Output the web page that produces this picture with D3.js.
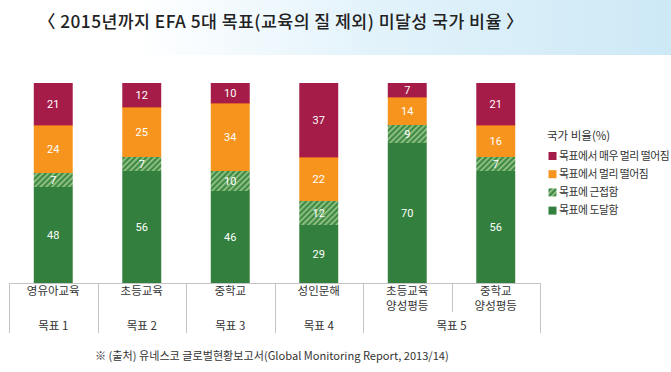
<!DOCTYPE html>
<html><head><meta charset="utf-8">
<script src="https://cdn.jsdelivr.net/npm/d3@7"></script>
<style>
html,body{margin:0;padding:0;background:#fff;}
svg{display:block;font-family:"Noto Sans CJK KR","Noto Sans",sans-serif;}
</style></head>
<body><svg id="c" width="671" height="372"></svg>
<script>
const categories = ["영유아교육", "초등교육", "중학교", "성인문해", "초등교육\n양성평등", "중학교\n양성평등"];
const goals = ["목표 1", "목표 2", "목표 3", "목표 4", "목표 5"];
const goalSpan = [[0,0],[1,1],[2,2],[3,3],[4,5]];
const seriesNames = ["목표에 도달함", "목표에 근접함", "목표에서 멀리 떨어짐", "목표에서 매우 멀리 떨어짐"];
const reached = [48, 56, 46, 29, 70, 56];
const close   = [7, 7, 10, 12, 9, 7];
const far     = [24, 25, 34, 22, 14, 16];
const veryFar = [21, 12, 10, 37, 7, 21];
const yDomain = [0, 100];
const title = "〈 2015년까지 EFA 5대 목표(교육의 질 제외) 미달성 국가 비율 〉";
const legendTitle = "국가 비율(%)";
const footnote = "※ (출처) 유네스코 글로벌현황보고서(Global Monitoring Report, 2013/14)";

const colors = ["#33803e", "hatch", "#f7941d", "#a51c48"];

const svg = d3.select("#c");
const defs = svg.append("defs");

// background wash
const lg = defs.append("linearGradient").attr("id","wash").attr("x1","0").attr("x2","1").attr("y1","0").attr("y2","0");
lg.append("stop").attr("offset","0.2").attr("stop-color","#ffffff");
lg.append("stop").attr("offset","0.55").attr("stop-color","#e3f3fb");
lg.append("stop").attr("offset","1").attr("stop-color","#cde9f6");
svg.append("rect").attr("x",0).attr("y",0).attr("width",671).attr("height",55).attr("fill","url(#wash)");

// hatch pattern
const pat = defs.append("pattern").attr("id","hatch").attr("patternUnits","userSpaceOnUse")
  .attr("width",4).attr("height",4).attr("patternTransform","rotate(45)");
pat.append("rect").attr("width",4).attr("height",4).attr("fill","#3f8a44");
pat.append("rect").attr("width",1.6).attr("height",4).attr("fill","#9cc88c");

const x = d3.scaleBand().domain(categories).range([9, 540]).paddingInner(0.56).paddingOuter(0.28);
const y = d3.scaleLinear().domain(yDomain).range([283, 83]);

const data = categories.map((c,i)=>({cat:c, v:[reached[i], close[i], far[i], veryFar[i]]}));
const stacked = d3.stack().keys([0,1,2,3]).value((d,k)=>d.v[k])(data);

const g = svg.append("g");
stacked.forEach((layer, k) => {
  layer.forEach((seg, i) => {
    const x0 = x(categories[i]), w = x.bandwidth();
    const y0 = y(seg[1]), h = y(seg[0]) - y(seg[1]);
    g.append("rect").attr("x", x0).attr("y", y0).attr("width", w).attr("height", h)
      .attr("fill", colors[k] === "hatch" ? "url(#hatch)" : colors[k]);
    if (k === 2) {
      g.append("line").attr("x1", x0).attr("x2", x0 + w).attr("y1", y0 + 0.5).attr("y2", y0 + 0.5)
        .attr("stroke", "#e0602a").attr("stroke-width", 1);
    }
    g.append("text").attr("x", x0 + w/2).attr("y", y0 + h/2).attr("dy","0.36em")
      .attr("text-anchor","middle").attr("fill","#fff").attr("font-size",11)
      .attr("font-family","'Roboto','Noto Sans',sans-serif")
      .text(data[i].v[k]);
  });
});

// axis
const axisG = svg.append("g").attr("stroke","#c4c4c4").attr("stroke-width",1);
axisG.append("line").attr("x1",9).attr("x2",540).attr("y1",283.5).attr("y2",283.5);
const step = x.step();
const bandStart = i => x(categories[i]) - x.paddingInner()*step/2;
const bounds = goalSpan.map(s => bandStart(s[0])).concat([bandStart(5) + step]);
bounds.forEach(b => axisG.append("line").attr("x1",Math.round(b)+0.5).attr("x2",Math.round(b)+0.5).attr("y1",283).attr("y2",333));
axisG.append("line").attr("x1",Math.round(bandStart(5))+0.5).attr("x2",Math.round(bandStart(5))+0.5).attr("y1",283).attr("y2",312);

// category labels
categories.forEach((c,i)=>{
  const lines = c.split("\n");
  const t = svg.append("text").attr("x", x(c)+x.bandwidth()/2).attr("text-anchor","middle")
    .attr("font-size",11.5).attr("fill","#333");
  lines.forEach((l,j)=> t.append("tspan").attr("x", x(c)+x.bandwidth()/2).attr("y", 295 + j*15).text(l));
});
// goal labels
goals.forEach((gname,i)=>{
  const s = goalSpan[i];
  const cx = (x(categories[s[0]]) + x(categories[s[1]]) + x.bandwidth())/2;
  svg.append("text").attr("x",cx).attr("y",330).attr("text-anchor","middle")
    .attr("font-size",11.5).attr("fill","#333").text(gname);
});

// title
svg.append("text").attr("x",281).attr("y",28).attr("text-anchor","middle")
  .attr("font-size",17.3).attr("font-weight",500).attr("fill","#222").attr("letter-spacing",0.45).text(title);

// legend
svg.append("text").attr("x",547).attr("y",140).attr("font-size",11.5).attr("fill","#333").text(legendTitle);
const order = [3,2,1,0];
order.forEach((k,j)=>{
  const yy = 156 + j*18.2;
  svg.append("rect").attr("x",548.5).attr("y",yy-4).attr("width",8).attr("height",8)
    .attr("fill", colors[k] === "hatch" ? "url(#hatch)" : colors[k]);
  svg.append("text").attr("x",559).attr("y",yy).attr("dy","0.36em").attr("font-size",10.8)
    .attr("letter-spacing",-0.45).attr("fill","#333").text(seriesNames[k]);
});

// footnote
svg.append("text").attr("x",95).attr("y",360).attr("font-size",11.1).attr("fill","#333").text(footnote);
</script></body></html>
